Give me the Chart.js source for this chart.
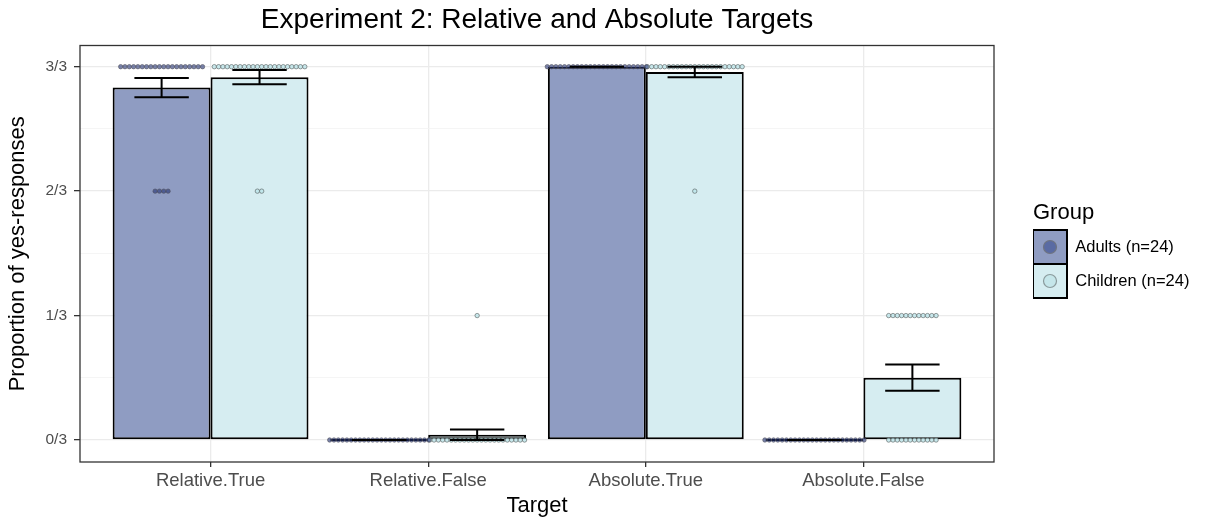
<!DOCTYPE html>
<html><head><meta charset="utf-8">
<script src="https://cdn.jsdelivr.net/npm/chart.js@4/dist/chart.umd.min.js"></script>
<style>html,body{margin:0;padding:0;background:#fff}#wrap{width:1209px;height:523px}</style>
</head><body><div id="wrap"><canvas id="c" width="1209" height="523"></canvas></div>
<script>
// ---- data ----
const categories = ['Relative.True', 'Relative.False', 'Absolute.True', 'Absolute.False'];
const groups = ['Adults (n=24)', 'Children (n=24)'];
const yTickValues = [0, 1/3, 2/3, 1];
const yTickLabels = ['0/3', '1/3', '2/3', '3/3'];
const adultsMean = [0.944, 0, 1, 0];
const childrenMean = [0.972, 0.014, 0.986, 0.167];
const adultsSE = [0.026, 0, 0, 0];
const childrenSE = [0.019, 0.014, 0.014, 0.035];
// number of participants answering yes on 0/3, 1/3, 2/3, 3/3 trials
const adultsCounts = [[0, 0, 4, 20], [24, 0, 0, 0], [0, 0, 0, 24], [24, 0, 0, 0]];
const childrenCounts = [[0, 0, 2, 22], [23, 1, 0, 0], [0, 0, 1, 23], [12, 12, 0, 0]];

// ---- styling ----
const FONT = '"Liberation Sans", Arial, Helvetica, sans-serif';
Chart.defaults.font.family = FONT;
const barColors = ['#8F9CC2', '#D6EDF1'];
const dotFill = ['rgba(35,50,115,0.6)', 'rgba(185,228,234,0.75)'];
const dotEdge = ['rgba(80,80,90,0.65)', 'rgba(95,105,105,0.75)'];
const keyFill = ['#5A6BA3', '#C5E6EA'];
const keyEdge = ['#6f7480', '#8a9a9c'];
const DODGE = 0.225;
const DOT_STEP = 0.0198;

function dotPoints(counts, dodge) {
  const pts = [];
  counts.forEach((levels, ci) => {
    levels.forEach((n, lv) => {
      for (let k = 0; k < n; k++) {
        pts.push({x: ci + 1 + dodge + (k - (n - 1) / 2) * DOT_STEP, y: lv / 3});
      }
    });
  });
  return pts;
}
const isMajor = v => Math.abs(v * 3 - Math.round(v * 3)) < 1e-6;

const means = [adultsMean, childrenMean];
const ses = [adultsSE, childrenSE];

const errorBarPlugin = {
  id: 'errorBars',
  afterDatasetsDraw(chart) {
    const ctx = chart.ctx, xs = chart.scales.x, ys = chart.scales.y;
    const half = xs.getPixelForValue(1.125) - xs.getPixelForValue(1);
    ctx.save();
    ctx.strokeStyle = '#000';
    ctx.lineWidth = 2;
    [0, 1].forEach(d => {
      chart.getDatasetMeta(d).data.forEach((bar, j) => {
        const m = means[d][j], s = ses[d][j];
        const yT = ys.getPixelForValue(m + s), yB = ys.getPixelForValue(m - s);
        const x = bar.x;
        ctx.beginPath();
        ctx.moveTo(x - half, yT); ctx.lineTo(x + half, yT);
        ctx.moveTo(x - half, yB); ctx.lineTo(x + half, yB);
        ctx.moveTo(x, yT); ctx.lineTo(x, yB);
        ctx.stroke();
      });
    });
    ctx.restore();
  }
};
const framePlugin = {
  id: 'frame',
  afterDraw(chart) {
    const a = chart.chartArea, ctx = chart.ctx;
    ctx.save();
    ctx.strokeStyle = '#333333';
    ctx.lineWidth = 1.3;
    ctx.strokeRect(a.left, a.top, a.right - a.left, a.bottom - a.top);
    ctx.restore();
  }
};
const legendKeyPlugin = {
  id: 'legendKeys',
  afterDraw(chart) {
    const lg = chart.legend, ctx = chart.ctx;
    if (!lg || !lg.legendHitBoxes) return;
    ctx.save();
    lg.legendHitBoxes.forEach((hb, i) => {
      ctx.beginPath();
      ctx.arc(hb.left + 17, hb.top + 17, 6.5, 0, Math.PI * 2);
      ctx.fillStyle = keyFill[i];
      ctx.fill();
      ctx.lineWidth = 1.2;
      ctx.strokeStyle = keyEdge[i];
      ctx.stroke();
    });
    ctx.restore();
  }
};

const chart = new Chart(document.getElementById('c'), {
  type: 'bar',
  data: {
    datasets: [
      {type: 'bar', label: groups[0], xAxisID: 'x', yAxisID: 'y',
       data: categories.map((c, i) => ({x: i + 1, y: adultsMean[i]})),
       backgroundColor: barColors[0], borderColor: '#000', borderWidth: 2, borderSkipped: false,
       minBarLength: 2, categoryPercentage: 0.9, barPercentage: 1, order: 3},
      {type: 'bar', label: groups[1], xAxisID: 'x', yAxisID: 'y',
       data: categories.map((c, i) => ({x: i + 1, y: childrenMean[i]})),
       backgroundColor: barColors[1], borderColor: '#000', borderWidth: 2, borderSkipped: false,
       minBarLength: 2, categoryPercentage: 0.9, barPercentage: 1, order: 3},
      {type: 'scatter', label: 'adults-dots', xAxisID: 'x', yAxisID: 'y',
       data: dotPoints(adultsCounts, -DODGE), pointRadius: 2.2, pointBorderWidth: 0.9,
       backgroundColor: dotFill[0], borderColor: dotEdge[0], order: 1},
      {type: 'scatter', label: 'children-dots', xAxisID: 'x', yAxisID: 'y',
       data: dotPoints(childrenCounts, DODGE), pointRadius: 2.2, pointBorderWidth: 0.9,
       backgroundColor: dotFill[1], borderColor: dotEdge[1], order: 1}
    ]
  },
  options: {
    responsive: false, animation: false, devicePixelRatio: 1, events: [],
    layout: {padding: {left: 0, right: 0, top: 0, bottom: 0}},
    plugins: {
      tooltip: {enabled: false},
      title: {display: true, fullSize: false, text: 'Experiment 2: Relative and Absolute Targets',
              color: '#000', font: {size: 28, weight: 'normal', lineHeight: 1.2},
              padding: {top: 3, bottom: 8.9}},
      legend: {
        display: true, position: 'right', align: 'start', fullSize: false,
        title: {display: true, text: 'Group', position: 'start', color: '#000',
                font: {size: 22, weight: 'normal', lineHeight: 1.2}, padding: {top: 156.5, bottom: 1.6}},
        labels: {
          boxWidth: 34, boxHeight: 34, padding: 0, color: '#000',
          font: {size: 16.5},
          generateLabels: () => groups.map((g, i) => ({
            text: g, fillStyle: barColors[i], strokeStyle: '#000', lineWidth: 2,
            hidden: false, datasetIndex: i, fontColor: '#000'
          }))
        }
      }
    },
    scales: {
      x: {
        type: 'linear', position: 'bottom', min: 0.4, max: 4.6, offset: false,
        afterBuildTicks: s => { s.ticks = [1, 2, 3, 4].map(v => ({value: v})); },
        afterFit: s => { s.height = 61; },
        ticks: {autoSkip: false, maxRotation: 0, color: '#4D4D4D', font: {size: 18.5}, padding: 3,
                callback: v => categories[Math.round(v) - 1] || ''},
        grid: {color: '#EBEBEB', lineWidth: 1.3, tickLength: 5, tickColor: '#333333', tickWidth: 1.3, offset: false},
        border: {display: false},
        title: {display: true, text: 'Target', color: '#000', font: {size: 22, lineHeight: 1.2}, padding: {top: 0, bottom: 4}}
      },
      y: {
        type: 'linear', position: 'left', min: -0.0589, max: 1.0568,
        afterBuildTicks: s => { s.ticks = [0, 1/6, 1/3, 1/2, 2/3, 5/6, 1].map(v => ({value: v})); },
        afterFit: s => { s.width = 80; },
        ticks: {autoSkip: false, color: '#4D4D4D', font: {size: 15.5}, padding: 7,
                callback: v => isMajor(v) ? yTickLabels[Math.round(v * 3)] : ''},
        grid: {
          color: c => isMajor(c.tick.value) ? '#EBEBEB' : '#F2F2F2',
          lineWidth: c => isMajor(c.tick.value) ? 1.3 : 0.8,
          tickColor: c => isMajor(c.tick.value) ? '#333333' : 'rgba(0,0,0,0)',
          tickLength: 6, tickWidth: 1.3
        },
        border: {display: false},
        title: {display: true, text: 'Proportion of yes-responses', color: '#000', font: {size: 22, lineHeight: 1.2}, padding: {top: 5, bottom: 0}}
      },
      gap: {
        type: 'linear', position: 'right', display: true,
        afterFit: s => { s.width = 39; },
        ticks: {display: false}, grid: {display: false, drawTicks: false}, border: {display: false}
      }
    }
  },
  plugins: [errorBarPlugin, framePlugin, legendKeyPlugin]
});
// fit the right side so that the plot panel ends where the reference's does
chart.options.layout.padding.right = Math.max(0, 1209 - 1033 - chart.legend.width);
chart.update();
</script>
</body></html>
